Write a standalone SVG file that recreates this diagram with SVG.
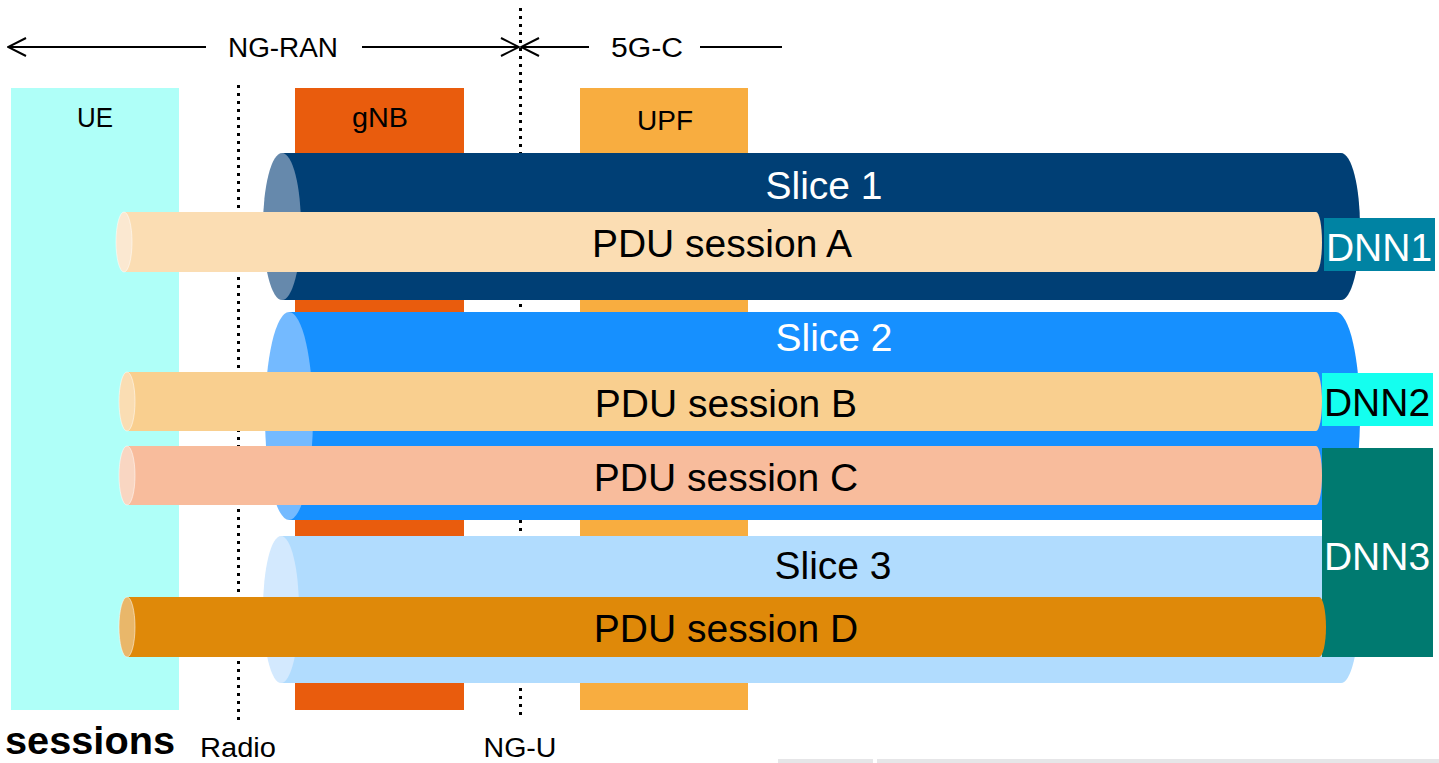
<svg xmlns="http://www.w3.org/2000/svg" width="1439" height="763" viewBox="0 0 1439 763">
  <defs>
    <marker id="chev" viewBox="0 0 20 20" refX="19" refY="10" markerWidth="20" markerHeight="20" markerUnits="userSpaceOnUse" orient="auto-start-reverse">
      <polyline points="1,1 19,10 1,19" fill="none" stroke="#000" stroke-width="2"/>
    </marker>
  </defs>
  <style>
    text { font-family: "Liberation Sans", Arial, sans-serif; }
    .sm { font-size: 27px; fill: #000; text-anchor: middle; }
    .lg { font-size: 39px; text-anchor: middle; }
    .dot { stroke: #000; stroke-width: 3; stroke-dasharray: 3 5; fill: none; }
    .axis { stroke: #000; stroke-width: 2; fill: none; }
    .cap { stroke: #fff; stroke-opacity: 0.5; stroke-width: 1; }
  </style>
  <rect width="1439" height="763" fill="#fff"/>

  <!-- domain scale -->
  <g id="scale">
    <line class="axis" x1="8" y1="47" x2="206" y2="47" marker-start="url(#chev)"/>
    <line class="axis" x1="362" y1="47" x2="519" y2="47" marker-end="url(#chev)"/>
    <line class="axis" x1="521" y1="47" x2="589" y2="47" marker-start="url(#chev)"/>
    <line class="axis" x1="700" y1="47" x2="782" y2="47"/>
    <text class="sm" x="283" y="57" textLength="110" lengthAdjust="spacingAndGlyphs">NG-RAN</text>
    <text class="sm" x="647" y="57" textLength="72" lengthAdjust="spacingAndGlyphs">5G-C</text>
  </g>

  <!-- network functions -->
  <g id="ue">
    <rect x="11" y="88" width="168" height="622" fill="#AFFFF8"/>
    <text class="sm" x="95" y="127" textLength="36" lengthAdjust="spacingAndGlyphs">UE</text>
  </g>
  <g id="gnb">
    <rect x="295" y="88" width="169" height="622" fill="#E95C0D"/>
    <text class="sm" x="380" y="127" textLength="56" lengthAdjust="spacingAndGlyphs">gNB</text>
  </g>
  <g id="upf">
    <rect x="580" y="88" width="168" height="622" fill="#F8AD40"/>
    <text class="sm" x="665" y="130" textLength="56" lengthAdjust="spacingAndGlyphs">UPF</text>
  </g>

  <!-- reference points -->
  <g id="reference-points">
    <line class="dot" x1="238.5" y1="85" x2="238.5" y2="720"/>
    <line class="dot" x1="520.5" y1="8" x2="520.5" y2="720"/>
    <text class="sm" x="238" y="757" textLength="76" lengthAdjust="spacingAndGlyphs">Radio</text>
    <text class="sm" x="520" y="757" textLength="73" lengthAdjust="spacingAndGlyphs">NG-U</text>
  </g>

  <!-- network slices -->
  <g id="slice1">
    <path d="M282 153 H1341 A19 73.5 0 0 1 1341 300 H282 Z" fill="#003F75"/>
    <ellipse cx="282" cy="226.5" rx="19" ry="73.5" fill="#6689AC"/>
    <text class="lg" x="824" y="199" fill="#fff">Slice 1</text>
  </g>
  <g id="slice2">
    <path d="M289 312 H1336 A24 104 0 0 1 1336 520 H289 Z" fill="#1690FF"/>
    <ellipse cx="289" cy="416" rx="24" ry="104" fill="#74BAFF"/>
    <text class="lg" x="834" y="351" fill="#fff">Slice 2</text>
  </g>
  <g id="slice3">
    <path d="M281 536 H1341 A18 73.5 0 0 1 1341 683 H281 Z" fill="#B1DCFE"/>
    <ellipse cx="281" cy="609.5" rx="18" ry="73.5" fill="#D3E9FE"/>
    <text class="lg" x="833" y="579" fill="#000">Slice 3</text>
  </g>

  <!-- data networks -->
  <g id="dnn1">
    <rect x="1324" y="218" width="111" height="53" fill="#0083A3"/>
    <text class="lg" x="1379" y="261" fill="#fff">DNN1</text>
  </g>
  <g id="dnn2">
    <rect x="1322" y="373" width="111" height="53" fill="#14FFEF"/>
    <text class="lg" x="1377" y="416" fill="#000">DNN2</text>
  </g>
  <g id="dnn3">
    <rect x="1322" y="448" width="111" height="209" fill="#007A70"/>
    <text class="lg" x="1377" y="570" fill="#fff">DNN3</text>
  </g>

  <!-- PDU sessions -->
  <g id="pdu-a">
    <path d="M124 212 H1316 A6 30 0 0 1 1316 272 H124 Z" fill="#FBDDB3"/>
    <ellipse class="cap" cx="124" cy="242" rx="8" ry="30" fill="#FBE8D1"/>
    <text class="lg" x="722" y="257" fill="#000">PDU session A</text>
  </g>
  <g id="pdu-b">
    <path d="M127 372 H1316 A6 29.5 0 0 1 1316 431 H127 Z" fill="#F9CF8F"/>
    <ellipse class="cap" cx="127" cy="401.5" rx="8" ry="29.5" fill="#FADDB3"/>
    <text class="lg" x="726" y="417" fill="#000">PDU session B</text>
  </g>
  <g id="pdu-c">
    <path d="M127 446 H1316 A6 29.5 0 0 1 1316 505 H127 Z" fill="#F8BC9C"/>
    <ellipse class="cap" cx="127" cy="475.5" rx="8" ry="29.5" fill="#F9D6C2"/>
    <text class="lg" x="726" y="491" fill="#000">PDU session C</text>
  </g>
  <g id="pdu-d">
    <path d="M127 597 H1319 A7 30 0 0 1 1319 657 H127 Z" fill="#DF8909"/>
    <ellipse class="cap" cx="127" cy="627" rx="8" ry="30" fill="#E9B76A"/>
    <text class="lg" x="726" y="642" fill="#000">PDU session D</text>
  </g>

  <!-- caption -->
  <g id="caption">
    <text x="5" y="754" font-size="38" font-weight="bold" fill="#000" textLength="170" lengthAdjust="spacingAndGlyphs">sessions</text>
    <rect x="778" y="759" width="95" height="4" fill="#E6E6E8"/>
    <rect x="877" y="759" width="562" height="4" fill="#E6E6E8"/>
  </g>
</svg>
